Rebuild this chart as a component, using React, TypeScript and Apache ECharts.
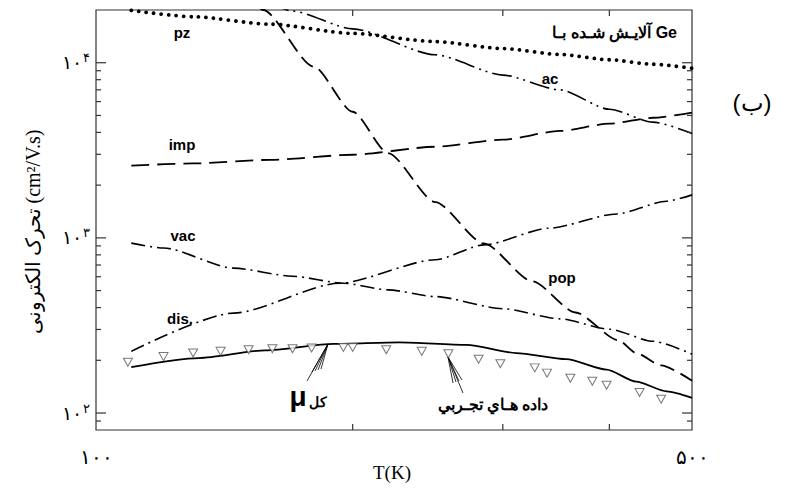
import React, { useEffect, useRef } from 'react';
import * as echarts from 'echarts';

const T_MIN = 100;
const T_MAX = 500;
const MU_MIN = 80;
const MU_MAX = 20000;

// piezoelectric (dotted)
const pzT = [110, 130, 160, 200, 250, 300, 350, 400, 450, 500];
const pzMu = [19900, 18300, 16600, 14700, 13200, 12050, 11150, 10400, 9800, 9300];
// acoustic (dash-dot-dot)
const acT = [160, 170, 200, 250, 300, 350, 400, 450, 500];
const acMu = [22000, 19700, 15600, 11100, 8500, 7000, 5420, 4580, 3950];
// ionized impurity (long dash)
const impT = [110, 130, 160, 200, 250, 300, 350, 400, 450, 500];
const impMu = [2585, 2660, 2790, 2983, 3314, 3640, 4078, 4487, 4850, 5190];
// polar optical phonon (dash)
const popT = [150, 157, 180, 200, 220, 250, 285, 325, 365, 410, 430, 460, 500];
const popMu = [26000, 20000, 9500, 5250, 3050, 1600, 930, 565, 375, 260, 220, 187, 153];
// vacancy (dash-dot)
const vacT = [110, 120, 145, 170, 195, 220, 250, 300, 350, 400, 450, 500];
const vacMu = [933, 875, 672, 604, 551, 505, 462, 394, 345, 301, 257, 217];
// dislocation (dash-dot)
const disT = [110, 145, 193, 250, 285, 340, 408, 467, 500];
const disMu = [225, 372, 551, 750, 912, 1136, 1370, 1620, 1760];
// total (solid)
const totT = [110, 132, 158, 190, 227, 272, 311, 356, 397, 430, 467, 500];
const totMu = [183, 206, 228, 248, 253, 245, 220, 203, 177, 151, 133, 122];
// experimental data (triangles)
const expT = [109, 120, 130, 140, 151, 161, 170, 179, 195, 200, 219, 241, 259, 281, 298, 327, 338, 360, 382, 397, 434, 460];
const expMu = [195, 210, 220, 225, 230, 233, 233, 235, 237, 237, 230, 225, 218, 203, 191, 181, 169, 158, 152, 144, 131, 120];

// ticks and labels
const xTickValues = [200, 300, 400];
const xLabels: Record<number, string> = { 100: '۱۰۰', 500: '۵۰۰' };
const yMajorTicks = [100, 1000, 10000];
const yMinorTicks = [90, 200, 300, 400, 500, 600, 700, 800, 900, 2000, 3000, 4000, 5000, 6000, 7000, 8000, 9000];
const persianDigits = ['۰', '۱', '۲', '۳', '۴', '۵', '۶', '۷', '۸', '۹'];

const SANS = 'Liberation Sans, Arial, Helvetica, sans-serif';
const SERIF = 'Liberation Serif, Times New Roman, serif';

function pairs(xs: number[], ys: number[]) {
  return xs.map((x, i) => [x, ys[i]]);
}

export default function App() {
  const ref = useRef<HTMLDivElement>(null);
  useEffect(() => {
    const chart = echarts.init(ref.current!, null, { renderer: 'svg' });

    const line = (name: string, xs: number[], ys: number[], dash: any, width: number, cap: string = 'butt') => ({
      type: 'line',
      name,
      data: pairs(xs, ys),
      symbol: 'none',
      showSymbol: false,
      smooth: 0.25,
      smoothMonotone: 'x',
      silent: true,
      clip: true,
      z: 3,
      lineStyle: { color: '#000', width, type: dash, cap },
    });

    const tickColor = '#333';

    const txt = (text: string, x: number, y: number, size: number, opts: any = {}) => ({
      type: 'text',
      x,
      y,
      silent: true,
      rotation: opts.rotation || 0,
      style: {
        text,
        fill: '#000',
        fontSize: size,
        fontWeight: opts.weight || 'bold',
        fontFamily: opts.family || SANS,
        align: opts.align || 'center',
        verticalAlign: 'middle',
      },
    });

    const seg = (x1: number, y1: number, x2: number, y2: number) => ({
      type: 'line',
      silent: true,
      shape: { x1, y1, x2, y2 },
      style: { stroke: '#000', lineWidth: 0.8 },
    });

    const muTip = [328, 344];
    const dataTip = [448, 357];
    const arrows: any[] = [seg(307, 381, muTip[0], muTip[1]), seg(463, 393, dataTip[0], dataTip[1])];
    for (let k = 0; k < 4; k++) {
      arrows.push(seg(muTip[0], muTip[1], 312 + k * 3, 372 - k));
      arrows.push(seg(dataTip[0], dataTip[1], 453 + k * 3, 383 - k));
    }

    chart.setOption({
      animation: false,
      grid: {
        left: 96,
        right: 100,
        top: 10,
        bottom: 61,
        show: true,
        borderColor: '#333',
        borderWidth: 1.2,
        backgroundColor: 'transparent',
      },
      xAxis: {
        type: 'log',
        logBase: 10,
        min: T_MIN,
        max: T_MAX,
        axisLine: { show: false },
        axisTick: { show: false },
        splitLine: { show: false },
        axisLabel: {
          show: true,
          showMinLabel: true,
          showMaxLabel: true,
          margin: 17,
          fontSize: 20,
          fontFamily: SERIF,
          color: '#000',
          formatter: (v: number) => {
            for (const k of Object.keys(xLabels)) {
              if (Math.abs(v - Number(k)) < 0.5) return xLabels[Number(k)];
            }
            return '';
          },
        },
      },
      yAxis: {
        type: 'log',
        logBase: 10,
        min: MU_MIN,
        max: MU_MAX,
        axisLine: { show: false },
        axisTick: { show: false },
        splitLine: { show: false },
        axisLabel: {
          show: true,
          margin: 6,
          color: '#000',
          formatter: (v: number) => {
            const e = Math.log10(v);
            const r = Math.round(e);
            if (Math.abs(e - r) > 1e-6) return '';
            return `{b|۱۰}{s|${persianDigits[r]}}`;
          },
          rich: {
            b: { fontSize: 19, fontFamily: SERIF, color: '#000' },
            s: { fontSize: 13, fontFamily: SERIF, color: '#000', padding: [0, 0, 10, 1] },
          },
        },
      },
      series: [
        line('pz', pzT, pzMu, [0.01, 7.5], 3.8, 'round'),
        line('ac', acT, acMu, [20, 5, 2, 5, 2, 5], 1.6),
        line('imp', impT, impMu, [18, 8], 1.8),
        line('pop', popT, popMu, [15, 7], 1.8),
        line('vac', vacT, vacMu, [14, 5, 2, 5], 1.6),
        line('dis', disT, disMu, [14, 5, 2, 5], 1.6),
        line('total', totT, totMu, 'solid', 1.8),
        {
          type: 'scatter',
          name: 'exp',
          data: pairs(expT, expMu),
          symbol: 'triangle',
          symbolRotate: 180,
          symbolSize: [9, 8],
          silent: true,
          z: 4,
          itemStyle: { color: '#fff', borderColor: '#555', borderWidth: 1 },
        },
        {
          type: 'custom',
          name: 'yTicks',
          silent: true,
          clip: false,
          z: 5,
          encode: { x: 0, y: 1 },
          data: [
            ...yMajorTicks.map((v) => [T_MIN, v, 10]),
            ...yMinorTicks.map((v) => [T_MIN, v, 5]),
          ],
          renderItem: (params: any, api: any) => {
            const v = api.value(1);
            const len = api.value(2);
            const l = api.coord([T_MIN, v]);
            const r = api.coord([T_MAX, v]);
            return {
              type: 'group',
              children: [
                { type: 'line', shape: { x1: l[0], y1: l[1], x2: l[0] + len, y2: l[1] }, style: { stroke: tickColor, lineWidth: 1.2 } },
                { type: 'line', shape: { x1: r[0], y1: r[1], x2: r[0] - len, y2: r[1] }, style: { stroke: tickColor, lineWidth: 1.2 } },
              ],
            };
          },
        },
        {
          type: 'custom',
          name: 'xTicks',
          silent: true,
          clip: false,
          z: 5,
          encode: { x: 0, y: 1 },
          data: xTickValues.map((v) => [v, MU_MIN, 6]),
          renderItem: (params: any, api: any) => {
            const v = api.value(0);
            const len = api.value(2);
            const b = api.coord([v, MU_MIN]);
            const t = api.coord([v, MU_MAX]);
            return {
              type: 'group',
              children: [
                { type: 'line', shape: { x1: b[0], y1: b[1], x2: b[0], y2: b[1] - len }, style: { stroke: tickColor, lineWidth: 1.2 } },
                { type: 'line', shape: { x1: t[0], y1: t[1], x2: t[0], y2: t[1] + len }, style: { stroke: tickColor, lineWidth: 1.2 } },
              ],
            };
          },
        },
      ],
      graphic: [
        txt('pz', 182, 32, 15),
        txt('imp', 182, 144, 15),
        txt('vac', 183, 235, 15),
        txt('dis.', 180, 318, 15),
        txt('ac', 550, 78, 15),
        txt('pop', 562, 277, 15),
        txt('آلایـش شـده بـا Ge', 677, 32, 16, { align: 'right' }),
        txt('(ب)', 752, 102, 24, { weight: 'normal' }),
        txt('μ', 298, 396, 28),
        txt('کل', 318, 402, 14),
        txt('داده هـاي تجـربي', 493, 404, 16),
        txt('T(K)', 392, 472, 19, { weight: 'normal', family: SERIF }),
        txt('تحرک الکترونی (cm²/V.s)', 33, 232, 20, { weight: 'normal', family: SERIF, rotation: Math.PI / 2 }),
        ...arrows,
      ],
    });

    return () => chart.dispose();
  }, []);

  return (
    <div
      ref={ref}
      style={{ position: 'fixed', left: 0, top: 0, width: 792, height: 491, background: '#fff' }}
    />
  );
}
